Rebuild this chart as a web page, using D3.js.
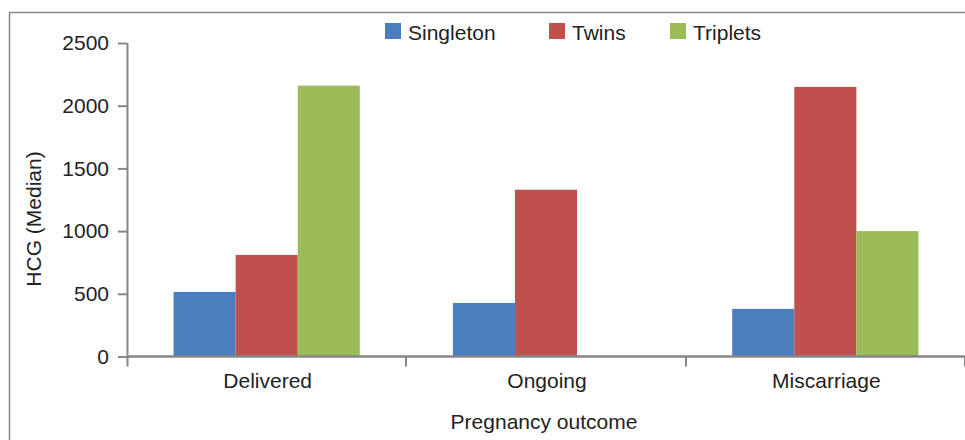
<!DOCTYPE html>
<html>
<head>
<meta charset="utf-8">
<script src="https://cdn.jsdelivr.net/npm/d3@7/dist/d3.min.js"></script>
<style>
  html, body { margin: 0; padding: 0; background: #fff; }
  svg { display: block; font-family: "Liberation Sans", Arial, sans-serif; }
</style>
</head>
<body>
<svg id="chart" width="965" height="440"></svg>
<script>
// Pregnancy outcome categories and median HCG per plurality group
const categories = ["Delivered", "Ongoing", "Miscarriage"];
const seriesNames = ["Singleton", "Twins", "Triplets"];
const singleton = [515, 427, 380];
const twins = [810, 1330, 2150];
const triplets = [2160, null, 1000];
const yTicks = [0, 500, 1000, 1500, 2000, 2500];
const seriesColors = ["#4a7ebf", "#c0504d", "#9bbb59"];

const seriesValues = [singleton, twins, triplets];

const svg = d3.select("#chart");
const W = 965, H = 440;
const axisGrey = "#868686";
const textColor = "#222";

// outer frame (continues past the right and bottom edges)
svg.append("rect")
  .attr("x", 9.5).attr("y", 12.5)
  .attr("width", 1000).attr("height", 500)
  .attr("fill", "none")
  .attr("stroke", axisGrey).attr("stroke-width", 1.5);

const x0 = d3.scaleBand().domain(categories).range([127, 965]).paddingInner(0).paddingOuter(0);
const x1 = d3.scaleBand().domain(seriesNames).range([0, x0.bandwidth()]).paddingInner(0).paddingOuter(0.75);
const y = d3.scaleLinear().domain([0, 2500]).range([356.5, 43]);

// bars
const groups = svg.append("g").selectAll("g")
  .data(categories)
  .join("g")
  .attr("transform", d => `translate(${x0(d)},0)`);

groups.selectAll("rect")
  .data((c, i) => seriesNames.map((s, k) => ({ s, k, v: seriesValues[k][i] })).filter(d => d.v != null))
  .join("rect")
  .attr("x", d => x1(d.s))
  .attr("width", x1.bandwidth())
  .attr("y", d => y(d.v))
  .attr("height", d => y(0) - y(d.v))
  .attr("fill", d => seriesColors[d.k]);

// y axis
const yAxis = svg.append("g")
  .attr("transform", "translate(127,0)")
  .call(d3.axisLeft(y).tickValues(yTicks).tickFormat(d3.format("d"))
    .tickSize(9).tickPadding(9).tickSizeOuter(0));
yAxis.select(".domain").attr("stroke", axisGrey).attr("stroke-width", 2)
  .attr("d", `M0.5,${y(2500)}V${y(0) + 10}`);
yAxis.selectAll(".tick line").attr("stroke", axisGrey).attr("stroke-width", 2);
yAxis.selectAll(".tick text").attr("fill", textColor).style("font-size", "21px")
  .style("font-family", "'Liberation Sans', Arial, sans-serif");

// x axis with boundary ticks between categories
const xAxis = svg.append("g").attr("transform", `translate(0,${y(0)})`);
xAxis.append("line")
  .attr("x1", 127).attr("x2", W)
  .attr("stroke", axisGrey).attr("stroke-width", 2.5);
const bounds = categories.map(c => x0(c)).concat([x0.range()[1]]);
xAxis.selectAll("line.b")
  .data(bounds.slice(1))
  .join("line")
  .attr("class", "b")
  .attr("x1", d => Math.round(d)).attr("x2", d => Math.round(d))
  .attr("y1", 0).attr("y2", 10)
  .attr("stroke", axisGrey).attr("stroke-width", 2);
xAxis.selectAll("text")
  .data(categories)
  .join("text")
  .attr("x", d => x0(d) + x0.bandwidth() / 2 + 1)
  .attr("y", 31.5)
  .attr("text-anchor", "middle")
  .attr("fill", textColor)
  .style("font-size", "21px")
  .text(d => d);

// axis titles
svg.append("text")
  .attr("transform", "translate(41,219) rotate(-90)")
  .attr("text-anchor", "middle")
  .attr("fill", textColor)
  .style("font-size", "21px")
  .text("HCG (Median)");

svg.append("text")
  .attr("x", 544).attr("y", 429)
  .attr("text-anchor", "middle")
  .attr("fill", textColor)
  .style("font-size", "21px")
  .text("Pregnancy outcome");

// legend
const legendX = [385, 549, 670];
const legend = svg.append("g").selectAll("g")
  .data(seriesNames)
  .join("g")
  .attr("transform", (d, i) => `translate(${legendX[i]},23)`);
legend.append("rect")
  .attr("width", 16).attr("height", 16)
  .attr("fill", (d, i) => seriesColors[i]);
legend.append("text")
  .attr("x", 23).attr("y", 16.5)
  .attr("fill", textColor)
  .style("font-size", "21px")
  .text(d => d);
</script>
</body>
</html>
